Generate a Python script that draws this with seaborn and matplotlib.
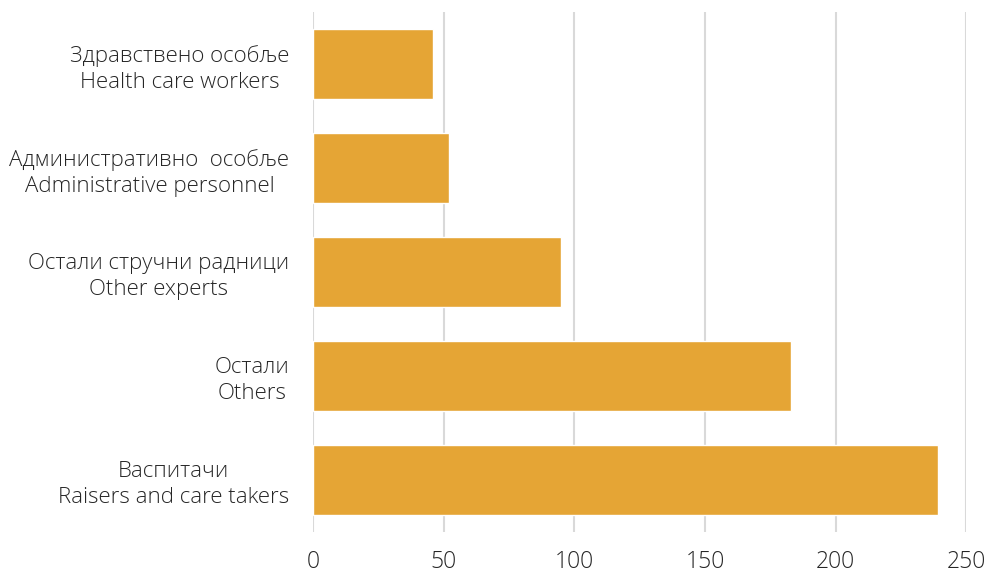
import matplotlib
matplotlib.use("Agg")
import matplotlib.pyplot as plt
import pandas as pd
import seaborn as sns

# ============================================
# Data
# ============================================
categories = [
    "Здравствено особље\nHealth care workers",
    "Административно  особље\nAdministrative personnel",
    "Остали стручни радници\nOther experts",
    "Остали\nOthers",
    "Васпитачи\nRaisers and care takers",
]
counts = [46, 52, 95, 183, 239]
x_ticks = [0, 50, 100, 150, 200, 250]

df = pd.DataFrame({"category": categories, "count": counts})

# ============================================
# Style
# ============================================
sns.set_style("white")
plt.rcParams["font.family"] = ["Open Sans", "DejaVu Sans"]
plt.rcParams["font.weight"] = "light"

fig = plt.figure(figsize=(9.89, 5.75), dpi=100)
ax = fig.add_axes([0.3165, 0.075, 0.6605, 0.904])

sns.barplot(data=df, x="count", y="category", order=categories,
            color="#E5A535", saturation=1, width=0.67, ax=ax, zorder=3)

ax.set_xlim(0, 250)
ax.set_xticks(x_ticks)
ax.grid(axis="x", color="#D9D9D9", linewidth=1.5, zorder=0)
ax.grid(axis="y", visible=False)
for s in ax.spines.values():
    s.set_visible(False)

ax.set_xlabel("")
ax.set_ylabel("")
ax.tick_params(axis="x", length=0, pad=13, labelsize=16.5, labelcolor="#262626")
ax.tick_params(axis="y", length=0, pad=17, labelsize=16, labelcolor="#262626")
for t in ax.get_yticklabels():
    t.set_multialignment("center")
    t.set_linespacing(1.3)

fig.savefig("out.png", dpi=100)
plt.close(fig)
